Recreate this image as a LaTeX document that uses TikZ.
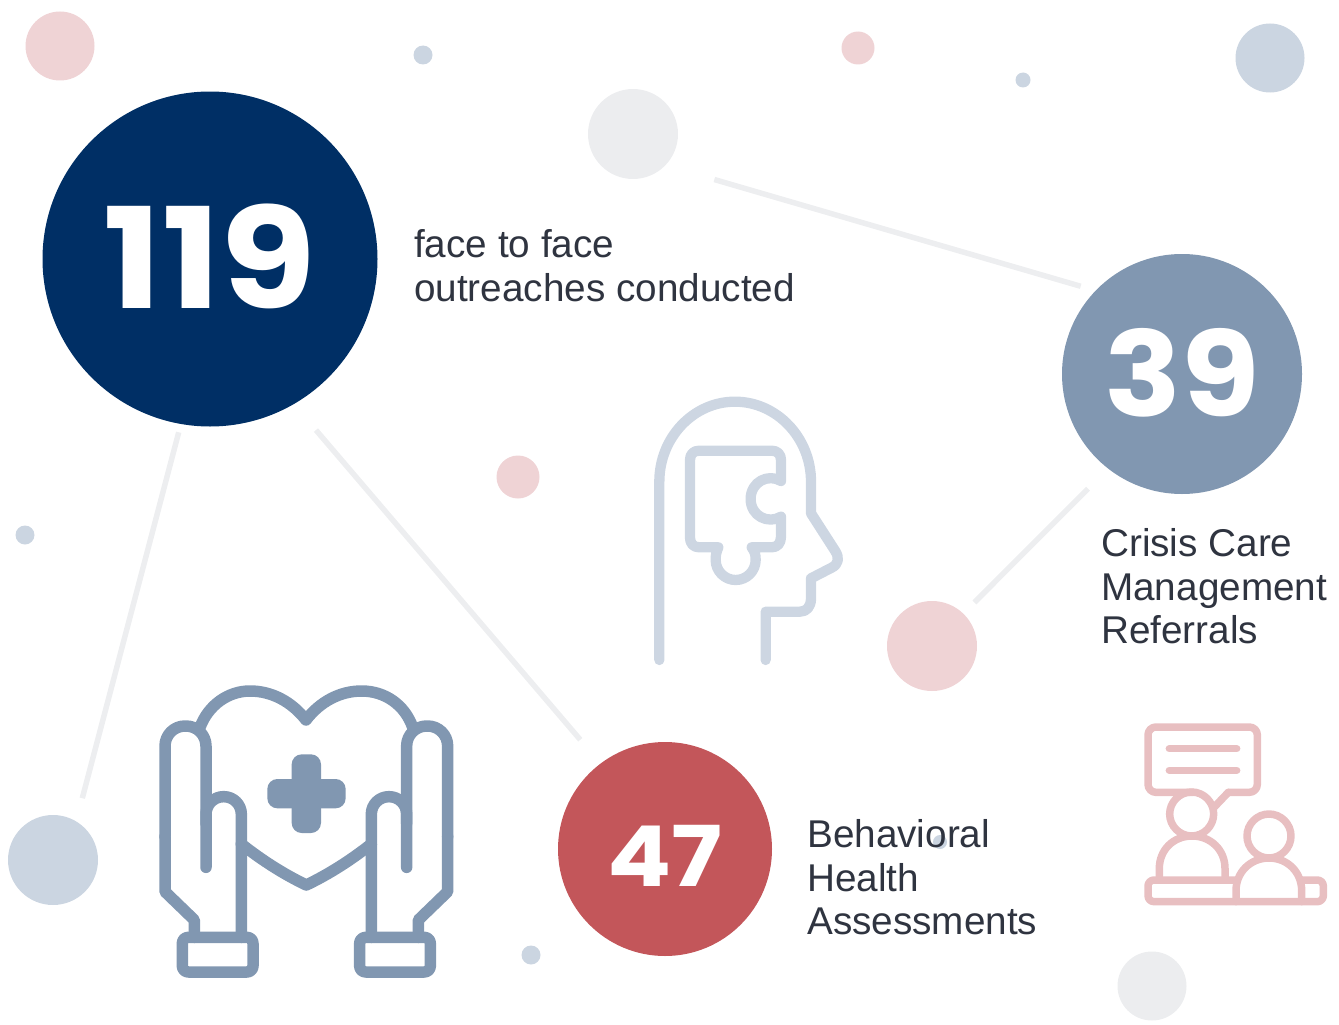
\documentclass[tikz,border=0pt]{standalone}
\usepackage{graphicx}
\usepackage{fontspec}
\setmainfont{Liberation Sans}
\newfontfamily\numfont{Poppins}[UprightFont=* Bold]
\newcommand{\numtext}[3]{\raisebox{#2}[0pt][0pt]{\scalebox{#1}[1]{#3}}}
\definecolor{navy}{HTML}{002F65}
\definecolor{steel}{HTML}{8197B1}
\definecolor{brick}{HTML}{C3565A}
\definecolor{pinkdot}{HTML}{EFD3D5}
\definecolor{greydot}{HTML}{ECEDEF}
\definecolor{bluedot}{HTML}{CBD5E1}
\definecolor{linkcol}{HTML}{EDEEF0}
\definecolor{headcol}{HTML}{CDD6E2}
\definecolor{groupcol}{HTML}{E8BFC1}
\definecolor{inkcol}{HTML}{2F3440}
\tikzset{
  dot/.style={circle,inner sep=0pt,minimum size=#1,outer sep=0pt},
  pinkd/.style={dot=#1,fill=pinkdot},
  greyd/.style={dot=#1,fill=greydot},
  blued/.style={dot=#1,fill=bluedot},
  link/.style={draw=linkcol,line width=5.5pt},
  caption/.style={anchor=west,inner sep=0pt,align=left,text=inkcol,font=\fontsize{38.7}{43.5}\selectfont},
  bignum/.style={text=white},
  handline/.style={draw=steel,line width=11.5pt,line cap=round,line join=round},
  headline/.style={draw=headcol,line width=10.3pt,line cap=round,line join=round},
  groupline/.style={draw=groupcol,line width=7.5pt,line cap=round,line join=round},
}
\begin{document}
\begin{tikzpicture}[x=1pt,y=-1pt]
\useasboundingbox (0,0) rectangle (1339,1025);
% decorative dots
\node[pinkd=69pt] (p1) at (60,46) {};
\node[blued=19pt] (b1) at (423,55) {};
\node[pinkd=33pt] (p2) at (858,48) {};
\node[blued=15pt] (b2) at (1023,80) {};
\node[blued=69pt] (b3) at (1270,58) {};
\node[greyd=90pt] (g1) at (633,134) {};
\node[pinkd=43pt] (p3) at (518,477) {};
\node[blued=19pt] (b4) at (25,535) {};
\node[blued=90pt] (b5) at (53,860) {};
\node[blued=19pt] (b6) at (531,955) {};
\node[greyd=69pt] (g2) at (1152,986) {};
\node[pinkd=90pt] (p4) at (932,646) {};
\node[blued=14pt] (b7) at (940,842) {};
% main circles
\node[dot=335pt,fill=navy,bignum,font=\numfont\fontsize{140}{140}\selectfont] (n119) at (210,259) {\numtext{1.11}{-49pt}{119}};
\node[dot=240pt,fill=steel,bignum,font=\numfont\fontsize{118}{118}\selectfont] (n39) at (1182,374) {\numtext{1.08}{-42pt}{39}};
\node[dot=214pt,fill=brick,bignum,font=\numfont\fontsize{84}{84}\selectfont] (n47) at (665,849) {\numtext{1.13}{-37pt}{47}};
% connectors
\draw[link,shorten <=8.6pt,shorten >=24pt] (n119.-100.6) -- (b5.59.3);
\draw[link,shorten <=34.2pt,shorten >=31.3pt] (n119.-60) -- (n47.127.2);
\draw[link,shorten <=51pt,shorten >=15.6pt] (g1.-44.7) -- (n39.136.5);
\draw[link,shorten <=28.5pt,shorten >=15.8pt] (n39.-128.6) -- (p4.46.7);
% captions
\node[caption] (t1) at (414,265.5) {face to face\\outreaches conducted};
\node[caption] (t2) at (1101,586.5) {Crisis Care\\Management\\Referrals};
\node[caption] (t3) at (807,877.5) {Behavioral\\Health\\Assessments};
% hands icon
\begin{scope}[shift={(140,670)},x=1pt/3,y=-1pt/3]
  \draw[handline] (180,172) .. controls (205,105) and (265,63) .. (330,63) .. controls (395,63) and (455,95) .. (498,150) .. controls (540,95) and (600,63) .. (665,63) .. controls (735,63) and (795,105) .. (818,172);
  \draw[handline] (304,522) .. controls (365,570) and (430,612) .. (499,645) .. controls (568,612) and (633,570) .. (694,522);
  \foreach \m/\o in {1/0,-1/998}{
    \begin{scope}[shift={(\o,0)},xscale=\m]
      \draw[handline,rounded corners=20pt] (198,592) -- (198,168) -- (75,168) -- (75,500);
      \draw[handline] (75,500) -- (75,665) -- (163,750) -- (163,802);
      \draw[handline,rounded corners=17.5pt] (304,802) -- (304,380) -- (198,380) -- (198,460);
      \draw[handline,rounded corners=6pt] (127,802) rectangle (339,906);
    \end{scope}
  }
  \fill[steel,rounded corners=10pt] (455,253) rectangle (543,489);
  \fill[steel,rounded corners=10pt] (382,327) rectangle (617,415);
\end{scope}
% head icon
\begin{scope}[shift={(640,385)},x=1pt/3,y=-1pt/3]
  \draw[headline] (58,825) -- (58,290) .. controls (58,158) and (160,50) .. (285,50) .. controls (410,50) and (513,158) .. (513,290) -- (513,385) -- (585,497) .. controls (600,520) and (595,538) .. (575,548) -- (513,580) -- (513,640) .. controls (513,665) and (500,680) .. (480,680) -- (377,680) -- (377,825);
  \draw[headline] (423,288) .. controls (385,265) and (332,290) .. (332,342) .. controls (332,394) and (385,418) .. (423,395) -- (423,455) .. controls (423,475) and (412,487) .. (395,487) -- (335,487) .. controls (345,500) and (347,510) .. (347,525) .. controls (347,558) and (320,585) .. (287,585) .. controls (254,585) and (227,558) .. (227,525) .. controls (227,510) and (229,500) .. (235,487) -- (178,487) .. controls (160,487) and (150,475) .. (150,458) -- (150,225) .. controls (150,208) and (160,197) .. (178,197) -- (395,197) .. controls (412,197) and (423,208) .. (423,225) -- cycle;
\end{scope}
% group icon
\begin{scope}[shift={(1130,710)},x=1pt/3,y=-1pt/3]
  \draw[groupline,rounded corners=8pt] (190,247) -- (54,247) -- (54,51) -- (382,51) -- (382,247) -- (295,247);
  \draw[groupline] (295,247) -- (252,292);
  \draw[groupline] (118,116) -- (320,116);
  \draw[groupline] (118,181) -- (320,181);
  \draw[groupline] (251,312) .. controls (251,276) and (221,246) .. (185,246) .. controls (149,246) and (119,276) .. (119,312) .. controls (119,348) and (149,378) .. (185,378) .. controls (221,378) and (251,348) .. (251,312) -- cycle;
  \draw[groupline] (88,505) -- (88,475) .. controls (88,420) and (130,378) .. (186,378) .. controls (242,378) and (285,420) .. (285,475) -- (285,505);
  \draw[groupline] (483,378) .. controls (483,342) and (453,312) .. (417,312) .. controls (381,312) and (351,342) .. (351,378) .. controls (351,414) and (381,444) .. (417,444) .. controls (453,444) and (483,414) .. (483,378) -- cycle;
  \draw[groupline] (318,575) -- (318,542) .. controls (318,487) and (361,444) .. (417,444) .. controls (473,444) and (515,487) .. (515,542) -- (515,575);
  \draw[groupline,rounded corners=6pt] (318,510) -- (54,510) -- (54,575) -- (580,575) -- (580,510) -- (515,510);
\end{scope}
\end{tikzpicture}
\end{document}
